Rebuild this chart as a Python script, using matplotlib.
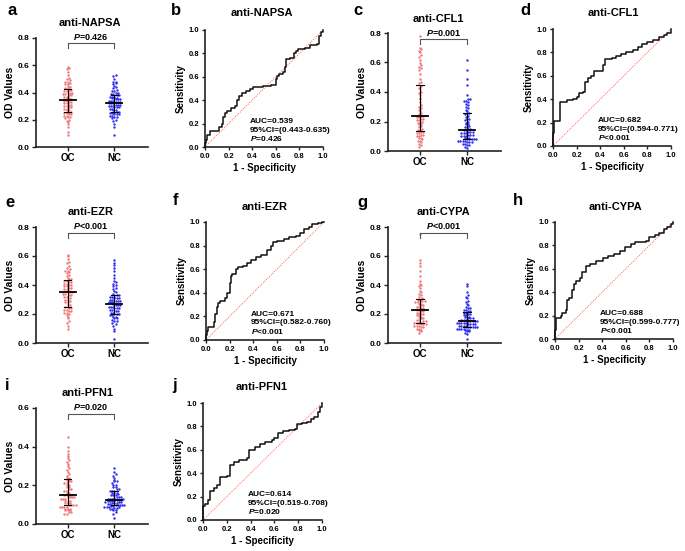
"""
OC / NC otoantikor paneli: solda OD dagilimi (medyan + IQR), sagda ROC egrisi.
Cikti: out.png (685x551)
"""

import numpy as np
import matplotlib
matplotlib.use("Agg")
import matplotlib.pyplot as plt

plt.rcParams["font.family"] = ["Liberation Sans", "DejaVu Sans"]
plt.rcParams["font.weight"] = "bold"
plt.rcParams["axes.labelweight"] = "bold"
plt.rcParams["mathtext.fontset"] = "custom"
plt.rcParams["mathtext.it"] = "Liberation Sans:italic:bold"
plt.rcParams["mathtext.rm"] = "Liberation Sans:bold"

GRUPLAR = ["OC", "NC"]
OC_RENK = "#f07a7a"
NC_RENK = "#2f2ff0"

# --- OD degerleri (gozle okunmus, sirali) ---
NAPSA_OC = [0.09, 0.11, 0.15, 0.17, 0.18, 0.19, 0.20, 0.21, 0.22, 0.22, 0.23, 0.23, 0.24, 0.24, 0.25, 0.25, 0.25,
            0.26, 0.27, 0.27, 0.28, 0.28, 0.29, 0.29, 0.30, 0.30, 0.31, 0.31, 0.32, 0.32, 0.33, 0.33, 0.34, 0.34,
            0.35, 0.35, 0.36, 0.36, 0.37, 0.37, 0.38, 0.38, 0.39, 0.39, 0.40, 0.40, 0.40, 0.41, 0.41, 0.42, 0.42,
            0.43, 0.43, 0.44, 0.45, 0.46, 0.46, 0.47, 0.48, 0.48, 0.49, 0.50, 0.51, 0.53, 0.55, 0.57, 0.58, 0.59]
NAPSA_NC = [0.09, 0.15, 0.17, 0.19, 0.20, 0.21, 0.22, 0.22, 0.23, 0.23, 0.24, 0.24, 0.24, 0.25, 0.25, 0.25, 0.26,
            0.26, 0.27, 0.27, 0.28, 0.28, 0.29, 0.29, 0.29, 0.30, 0.30, 0.30, 0.31, 0.31, 0.31, 0.32, 0.32, 0.32,
            0.33, 0.33, 0.33, 0.34, 0.34, 0.34, 0.35, 0.35, 0.35, 0.36, 0.36, 0.36, 0.37, 0.37, 0.37, 0.38, 0.38,
            0.39, 0.39, 0.40, 0.40, 0.41, 0.41, 0.42, 0.43, 0.44, 0.45, 0.46, 0.47, 0.48, 0.48, 0.50, 0.52, 0.53]
CFL1_OC = [0.03, 0.04, 0.05, 0.06, 0.07, 0.07, 0.08, 0.09, 0.09, 0.10, 0.10, 0.11, 0.11, 0.12, 0.12, 0.13, 0.13,
           0.14, 0.14, 0.15, 0.16, 0.17, 0.18, 0.18, 0.19, 0.20, 0.20, 0.21, 0.21, 0.22, 0.22, 0.23, 0.23, 0.24,
           0.24, 0.25, 0.26, 0.27, 0.28, 0.29, 0.30, 0.31, 0.33, 0.35, 0.36, 0.38, 0.39, 0.40, 0.42, 0.43, 0.44,
           0.46, 0.47, 0.49, 0.52, 0.55, 0.56, 0.57, 0.58, 0.60, 0.62, 0.64, 0.65, 0.67, 0.68, 0.69, 0.70, 0.78]
CFL1_NC = [0.02, 0.03, 0.04, 0.04, 0.05, 0.05, 0.06, 0.06, 0.06, 0.07, 0.07, 0.07, 0.07, 0.08, 0.08, 0.08, 0.08,
           0.08, 0.09, 0.09, 0.09, 0.10, 0.10, 0.10, 0.11, 0.11, 0.11, 0.12, 0.12, 0.12, 0.13, 0.13, 0.13, 0.14,
           0.14, 0.15, 0.15, 0.16, 0.16, 0.17, 0.18, 0.18, 0.19, 0.20, 0.21, 0.22, 0.22, 0.23, 0.24, 0.25, 0.26,
           0.26, 0.27, 0.28, 0.29, 0.30, 0.31, 0.32, 0.33, 0.34, 0.34, 0.35, 0.35, 0.38, 0.45, 0.49, 0.55, 0.62]
EZR_OC = [0.10, 0.12, 0.14, 0.15, 0.17, 0.18, 0.19, 0.20, 0.21, 0.21, 0.22, 0.22, 0.23, 0.23, 0.24, 0.24, 0.25,
          0.25, 0.26, 0.27, 0.28, 0.28, 0.29, 0.30, 0.30, 0.31, 0.32, 0.32, 0.33, 0.33, 0.34, 0.34, 0.35, 0.35,
          0.35, 0.36, 0.36, 0.37, 0.37, 0.38, 0.38, 0.39, 0.39, 0.40, 0.40, 0.41, 0.41, 0.42, 0.42, 0.43, 0.43,
          0.44, 0.44, 0.45, 0.46, 0.47, 0.48, 0.49, 0.50, 0.50, 0.51, 0.52, 0.53, 0.55, 0.56, 0.58, 0.60, 0.61]
EZR_NC = [0.03, 0.08, 0.10, 0.12, 0.13, 0.14, 0.15, 0.15, 0.16, 0.17, 0.17, 0.18, 0.18, 0.19, 0.19, 0.20, 0.20,
          0.20, 0.21, 0.21, 0.22, 0.22, 0.23, 0.23, 0.24, 0.24, 0.24, 0.25, 0.25, 0.25, 0.26, 0.26, 0.26, 0.27,
          0.27, 0.28, 0.28, 0.28, 0.29, 0.29, 0.29, 0.30, 0.30, 0.31, 0.31, 0.31, 0.32, 0.32, 0.32, 0.33, 0.33,
          0.34, 0.35, 0.36, 0.37, 0.38, 0.39, 0.40, 0.41, 0.42, 0.43, 0.45, 0.47, 0.50, 0.52, 0.54, 0.55, 0.57]
CYPA_OC = [0.07, 0.08, 0.09, 0.09, 0.10, 0.10, 0.11, 0.11, 0.12, 0.12, 0.12, 0.13, 0.13, 0.13, 0.14, 0.14, 0.14,
           0.14, 0.15, 0.15, 0.16, 0.16, 0.17, 0.17, 0.18, 0.18, 0.19, 0.19, 0.20, 0.20, 0.21, 0.21, 0.22, 0.22,
           0.23, 0.23, 0.24, 0.24, 0.25, 0.25, 0.26, 0.26, 0.27, 0.27, 0.28, 0.28, 0.29, 0.29, 0.29, 0.30, 0.30,
           0.31, 0.32, 0.33, 0.34, 0.35, 0.36, 0.38, 0.39, 0.40, 0.41, 0.43, 0.46, 0.50, 0.53, 0.55, 0.57, 0.75]
CYPA_NC = [0.03, 0.06, 0.07, 0.08, 0.08, 0.09, 0.09, 0.09, 0.10, 0.10, 0.10, 0.10, 0.11, 0.11, 0.11, 0.11, 0.11,
           0.11, 0.12, 0.12, 0.12, 0.12, 0.13, 0.13, 0.13, 0.13, 0.14, 0.14, 0.14, 0.14, 0.14, 0.15, 0.15, 0.15,
           0.15, 0.15, 0.16, 0.16, 0.16, 0.17, 0.17, 0.17, 0.18, 0.18, 0.18, 0.19, 0.19, 0.20, 0.20, 0.21, 0.21,
           0.22, 0.22, 0.23, 0.23, 0.24, 0.24, 0.25, 0.26, 0.27, 0.28, 0.29, 0.31, 0.32, 0.33, 0.35, 0.39, 0.41]
PFN1_OC = [0.05, 0.05, 0.06, 0.06, 0.07, 0.07, 0.07, 0.08, 0.08, 0.08, 0.09, 0.09, 0.09, 0.09, 0.10, 0.10, 0.10,
           0.10, 0.11, 0.11, 0.11, 0.12, 0.12, 0.12, 0.13, 0.13, 0.13, 0.14, 0.14, 0.14, 0.14, 0.15, 0.15, 0.15,
           0.15, 0.16, 0.16, 0.17, 0.17, 0.18, 0.18, 0.19, 0.19, 0.20, 0.20, 0.21, 0.21, 0.22, 0.22, 0.23, 0.23,
           0.24, 0.24, 0.25, 0.26, 0.27, 0.28, 0.29, 0.30, 0.31, 0.32, 0.33, 0.34, 0.35, 0.36, 0.38, 0.40, 0.45]
PFN1_NC = [0.03, 0.05, 0.06, 0.07, 0.07, 0.08, 0.08, 0.082, 0.085, 0.087, 0.09, 0.09, 0.09, 0.092, 0.094, 0.096, 0.098,
           0.10, 0.10, 0.10, 0.103, 0.105, 0.11, 0.11, 0.11, 0.112, 0.114, 0.116, 0.12, 0.12, 0.12, 0.12, 0.122, 0.124,
           0.126, 0.128, 0.13, 0.13, 0.13, 0.135, 0.14, 0.14, 0.14, 0.15, 0.15, 0.15, 0.155, 0.16, 0.16, 0.16, 0.17,
           0.17, 0.17, 0.18, 0.18, 0.19, 0.19, 0.20, 0.20, 0.21, 0.22, 0.22, 0.23, 0.24, 0.25, 0.26, 0.27, 0.29]

# --- ROC kose noktalari (FPR, TPR) ---
NAPSA_FPR = [0, 0, 0.01, 0.02, 0.04, 0.12, 0.14, 0.15, 0.17, 0.19, 0.22, 0.25, 0.27, 0.29, 0.31, 0.35, 0.38, 0.41,
             0.49, 0.56, 0.60, 0.61, 0.63, 0.66, 0.68, 0.69, 0.72, 0.75, 0.77, 0.79, 0.85, 0.89, 0.95, 0.97, 0.98, 1.0]
NAPSA_TPR = [0, 0.03, 0.06, 0.10, 0.14, 0.17, 0.20, 0.26, 0.29, 0.31, 0.33, 0.35, 0.40, 0.44, 0.46, 0.48, 0.50, 0.51,
             0.52, 0.53, 0.58, 0.61, 0.62, 0.64, 0.68, 0.75, 0.76, 0.80, 0.82, 0.84, 0.85, 0.87, 0.88, 0.95, 0.98, 1.0]
CFL1_FPR = [0, 0, 0.01, 0.06, 0.12, 0.17, 0.20, 0.22, 0.25, 0.27, 0.30, 0.32, 0.35, 0.42, 0.44, 0.50, 0.53, 0.58,
            0.62, 0.68, 0.72, 0.75, 0.80, 0.85, 0.90, 0.94, 0.97, 1.0]
CFL1_TPR = [0, 0.11, 0.21, 0.38, 0.39, 0.40, 0.42, 0.45, 0.46, 0.55, 0.58, 0.60, 0.64, 0.69, 0.74, 0.75, 0.77, 0.79,
            0.80, 0.82, 0.85, 0.87, 0.89, 0.91, 0.93, 0.95, 0.97, 1.0]
EZR_FPR = [0, 0, 0.005, 0.02, 0.07, 0.08, 0.09, 0.10, 0.12, 0.16, 0.18, 0.20, 0.21, 0.22, 0.25, 0.27, 0.31, 0.35,
           0.38, 0.42, 0.47, 0.52, 0.55, 0.57, 0.60, 0.66, 0.70, 0.76, 0.80, 0.83, 0.87, 0.90, 0.95, 0.98, 1.0]
EZR_TPR = [0, 0.04, 0.08, 0.11, 0.15, 0.22, 0.28, 0.31, 0.33, 0.36, 0.40, 0.48, 0.54, 0.56, 0.60, 0.62, 0.63, 0.65,
           0.68, 0.70, 0.72, 0.76, 0.80, 0.83, 0.84, 0.86, 0.87, 0.88, 0.91, 0.94, 0.96, 0.98, 0.99, 1.0, 1.0]
CYPA_FPR = [0, 0, 0.005, 0.01, 0.05, 0.06, 0.09, 0.10, 0.12, 0.14, 0.16, 0.18, 0.21, 0.23, 0.26, 0.30, 0.35, 0.41,
            0.45, 0.50, 0.55, 0.59, 0.64, 0.68, 0.77, 0.80, 0.85, 0.88, 0.92, 0.95, 0.98, 1.0]
CYPA_TPR = [0, 0.08, 0.13, 0.18, 0.20, 0.22, 0.25, 0.33, 0.35, 0.42, 0.47, 0.50, 0.52, 0.57, 0.62, 0.64, 0.67, 0.69,
            0.71, 0.73, 0.75, 0.79, 0.81, 0.83, 0.84, 0.87, 0.89, 0.91, 0.94, 0.96, 0.98, 1.0]
PFN1_FPR = [0, 0, 0.02, 0.04, 0.06, 0.09, 0.12, 0.14, 0.20, 0.23, 0.26, 0.30, 0.37, 0.39, 0.44, 0.48, 0.52, 0.58,
            0.60, 0.63, 0.67, 0.72, 0.77, 0.79, 0.83, 0.87, 0.91, 0.93, 0.97, 0.98, 1.0]
PFN1_TPR = [0, 0.12, 0.14, 0.17, 0.25, 0.27, 0.30, 0.37, 0.38, 0.47, 0.50, 0.51, 0.53, 0.60, 0.62, 0.65, 0.67, 0.68,
            0.70, 0.74, 0.76, 0.77, 0.78, 0.82, 0.83, 0.84, 0.86, 0.88, 0.92, 0.97, 1.0]

# istatistik metinleri
P_GRUP = [r"$\it{P}$=0.426", r"$\it{P}$=0.001", r"$\it{P}$<0.001", r"$\it{P}$<0.001", r"$\it{P}$=0.020"]
AUC = ["0.539", "0.682", "0.671", "0.688", "0.614"]
CI = ["(0.443-0.635)", "(0.594-0.771)", "(0.582-0.760)", "(0.599-0.777)", "(0.519-0.708)"]
P_ROC = [r"$\it{P}$=0.426", r"$\it{P}$<0.001", r"$\it{P}$<0.001", r"$\it{P}$<0.001", r"$\it{P}$=0.020"]

W, H = 685, 551
fig = plt.figure(figsize=(W / 100, H / 100), dpi=100)


def eksen(l, t, r, b):
    # piksel kutusu (sol, ust, sag, alt) -> figur kesri
    return fig.add_axes([l / W, 1 - b / H, (r - l) / W, (b - t) / H])


def yazi(x, y, s, **kw):
    fig.text(x / W, 1 - y / H, s, **kw)


def yayilim(vals, bin_h, adim):
    # ayni y bandindaki noktalari yatayda simetrik diz (GraphPad tarzi)
    anahtar = np.round(np.asarray(vals) / bin_h).astype(int)
    off = np.zeros(len(vals))
    for k in np.unique(anahtar):
        idx = np.where(anahtar == k)[0]
        off[idx] = (np.arange(len(idx)) - (len(idx) - 1) / 2) * adim
    return off


def sade(ax):
    for s in ("top", "right"):
        ax.spines[s].set_visible(False)
    for s in ("left", "bottom"):
        ax.spines[s].set_linewidth(1.2)
        ax.spines[s].set_color("#222222")


def dagilim_paneli(kutu, oc, nc, ymax, p_txt):
    ax = eksen(*kutu)
    sade(ax)
    for i, (vals, renk) in enumerate([(oc, OC_RENK), (nc, NC_RENK)]):
        vals = np.asarray(vals)
        off = yayilim(vals, 0.018 * ymax / 0.8, 0.048)
        ax.scatter(i + off, vals, s=3.0, c=renk, linewidths=0, zorder=2)
        q1, med, q3 = np.percentile(vals, [25, 50, 75])
        ax.plot([i - 0.17, i + 0.17], [med, med], color="k", lw=1.3, zorder=3)
        ax.plot([i, i], [q1, q3], color="k", lw=0.8, zorder=3)
        for q in (q1, q3):
            ax.plot([i - 0.08, i + 0.08], [q, q], color="k", lw=0.8, zorder=3)
    # anlamlilik koprusu
    by = 0.76 * ymax / 0.8
    bacak = 0.035 * ymax / 0.8
    ax.plot([0, 0, 1, 1], [by - bacak, by, by, by - bacak], color="#555555", lw=0.8, clip_on=False)
    ax.annotate(p_txt, (0.5, by), xytext=(0, 1), textcoords="offset points",
                ha="center", va="bottom", fontsize=6.5)
    ax.set_xlim(-0.68, 1.72)
    ax.set_ylim(0, ymax)
    ax.set_xticks([0, 1])
    ax.set_xticklabels(GRUPLAR, fontsize=7)
    yt = np.arange(0, ymax + 0.001, 0.2)
    ax.set_yticks(yt)
    ax.set_yticklabels([f"{v:.1f}" for v in yt], fontsize=6)
    ax.tick_params(length=3, width=1, pad=1.5, color="#222222")
    ax.set_ylabel("OD Values", fontsize=7.5, labelpad=2)
    return ax


def roc_paneli(kutu, fpr, tpr, auc, ci, p):
    ax = eksen(*kutu)
    sade(ax)
    ax.plot([0, 1], [0, 1], color="#ff5a5a", lw=0.7, ls=(0, (1, 1.3)))
    ax.plot(fpr, tpr, drawstyle="steps-post", color="#111111", lw=1.1, clip_on=False, zorder=3)
    ax.set_xlim(0, 1)
    ax.set_ylim(0, 1)
    t = np.linspace(0, 1, 6)
    ax.set_xticks(t)
    ax.set_yticks(t)
    ax.set_xticklabels([f"{v:.1f}" for v in t], fontsize=5.5)
    ax.set_yticklabels([f"{v:.1f}" for v in t], fontsize=5.5)
    ax.tick_params(length=2.5, width=1, pad=1.5, color="#222222")
    ax.set_xlabel("1 - Specificity", fontsize=7, labelpad=2.5)
    ax.set_ylabel("Sensitivity", fontsize=7, labelpad=2)
    for y, s in zip([0.22, 0.145, 0.07], [f"AUC={auc}", f"95%CI={ci}", p]):
        ax.text(0.38, y, s, transform=ax.transAxes, fontsize=6, va="center", ha="left")
    return ax


# dagilim panelleri: kutu, veri, y ust sinir
dagilim_paneli((36, 38, 148, 147), NAPSA_OC, NAPSA_NC, 0.8, P_GRUP[0])
dagilim_paneli((388, 33, 501, 151), CFL1_OC, CFL1_NC, 0.8, P_GRUP[1])
dagilim_paneli((36, 227, 148, 343), EZR_OC, EZR_NC, 0.8, P_GRUP[2])
dagilim_paneli((388, 227, 501, 343), CYPA_OC, CYPA_NC, 0.8, P_GRUP[3])
dagilim_paneli((36, 408, 148, 524), PFN1_OC, PFN1_NC, 0.6, P_GRUP[4])

roc_paneli((205, 30, 323, 147), NAPSA_FPR, NAPSA_TPR, AUC[0], CI[0], P_ROC[0])
roc_paneli((553, 29, 671, 146), CFL1_FPR, CFL1_TPR, AUC[1], CI[1], P_ROC[1])
roc_paneli((206, 222, 324, 340), EZR_FPR, EZR_TPR, AUC[2], CI[2], P_ROC[2])
roc_paneli((555, 222, 673, 339), CYPA_FPR, CYPA_TPR, AUC[3], CI[3], P_ROC[3])
roc_paneli((203, 403, 322, 520), PFN1_FPR, PFN1_TPR, AUC[4], CI[4], P_ROC[4])

# basliklar
basliklar = [("anti-NAPSA", 90, 23), ("anti-NAPSA", 262, 13), ("anti-CFL1", 438, 19), ("anti-CFL1", 613, 13),
             ("anti-EZR", 91, 212), ("anti-EZR", 265, 207), ("anti-CYPA", 443, 212), ("anti-CYPA", 615, 207),
             ("anti-PFN1", 88, 393), ("anti-PFN1", 262, 387)]
for s, x, y in basliklar:
    yazi(x, y, s, fontsize=8, ha="center", va="center")

# panel harfleri (sol, taban cizgisi)
harfler = [("a", 7, 15), ("b", 171, 15), ("c", 353, 15), ("d", 520, 15), ("e", 5, 207),
           ("f", 173, 205), ("g", 357, 207), ("h", 513, 205), ("i", 5, 390), ("j", 172, 390)]
for s, x, y in harfler:
    yazi(x, y, s, fontsize=12, ha="left", va="baseline")

fig.savefig("out.png", dpi=100)
